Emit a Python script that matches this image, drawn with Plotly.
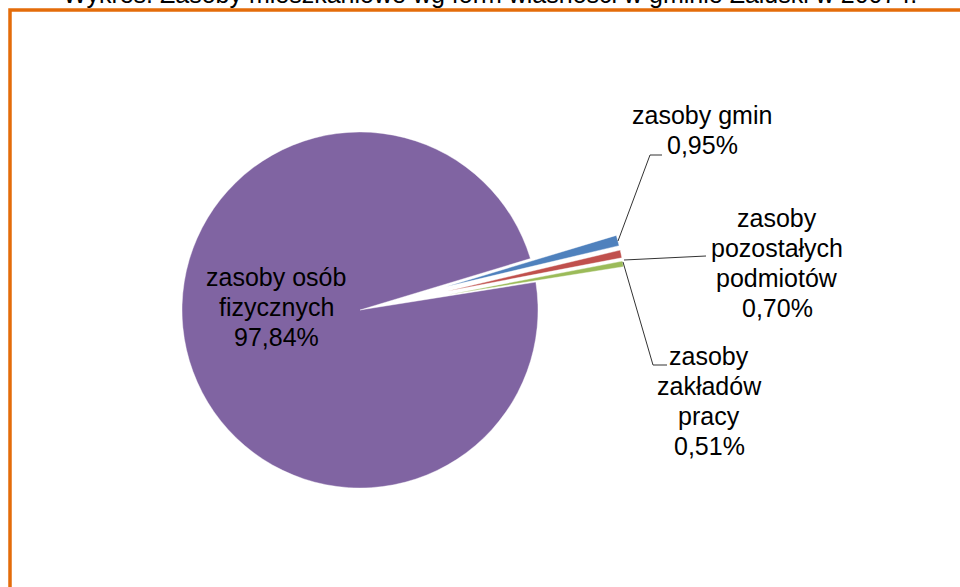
import plotly.graph_objects as go

# Data
labels = ["zasoby gmin", "zasoby pozostałych podmiotów", "zasoby zakładów pracy", "zasoby osób fizycznych"]
label_lines = [["zasoby gmin"], ["zasoby", "pozostałych", "podmiotów"], ["zasoby", "zakładów", "pracy"], ["zasoby osób", "fizycznych"]]
values = [0.95, 0.70, 0.51, 97.84]
colors = ["#4F81BD", "#C0504D", "#9BBB59", "#8064A2"]
pulls = [0.5, 0.5, 0.5, 0.0]
title_text = "Wykres. Zasoby mieszkaniowe wg form własności w gminie Załuski w 2007 r."

W, H = 960, 587
FONT = "Liberation Sans, Arial, sans-serif"

def px(x):
    return x / W

def py(y):
    return 1 - y / H

fig = go.Figure()
fig.add_trace(go.Pie(
    labels=labels,
    values=values,
    sort=False,
    direction="clockwise",
    rotation=73.2,
    pull=pulls,
    marker=dict(colors=colors, line=dict(color="white", width=0.4)),
    textinfo="none",
    hoverinfo="label+percent",
    domain=dict(x=[px(93), px(627)], y=[py(577), py(43)]),
    showlegend=False,
))

def fmt(v):
    return f"{v:.2f}".replace(".", ",") + "%"

label_pos = [(702, 130), (777, 263), (709, 401), (276, 307)]
LINE_H = 30
annotations = []
for lines, v, (cx, cy) in zip(label_lines, values, label_pos):
    all_lines = lines + [fmt(v)]
    n = len(all_lines)
    for i, t in enumerate(all_lines):
        yy = cy + (i - (n - 1) / 2) * LINE_H
        annotations.append(dict(
            text=t, x=px(cx), y=py(yy), xref="paper", yref="paper",
            xanchor="center", yanchor="middle", showarrow=False,
            font=dict(family=FONT, size=25, color="#000000"),
        ))

annotations.append(dict(
    text=title_text, x=px(490), y=py(10), xref="paper", yref="paper",
    xanchor="center", yanchor="bottom", showarrow=False,
    font=dict(family=FONT, size=25, color="#000000"),
))

line_style = dict(color="#333333", width=1)
shapes = [
    # orange frame (extends beyond the visible page)
    dict(type="rect", xref="paper", yref="paper", x0=px(10), y0=py(10), x1=px(1000), y1=py(640),
         line=dict(color="#E46C0A", width=3.5), fillcolor="rgba(0,0,0,0)"),
    # leader lines
    dict(type="path", xref="paper", yref="paper",
         path=f"M {px(618)} {py(241)} L {px(650)} {py(155)} L {px(662)} {py(155)}", line=line_style),
    dict(type="path", xref="paper", yref="paper",
         path=f"M {px(624)} {py(260)} L {px(706)} {py(256)}", line=line_style),
    dict(type="path", xref="paper", yref="paper",
         path=f"M {px(623)} {py(262)} L {px(653)} {py(365)} L {px(667)} {py(365)}", line=line_style),
]

fig.update_layout(
    width=W, height=H,
    margin=dict(l=0, r=0, t=0, b=0),
    paper_bgcolor="white", plot_bgcolor="white",
    annotations=annotations, shapes=shapes,
)

fig.write_html("out.html", config={"displayModeBar": False},
               post_script="document.body.style.margin='0px';")
